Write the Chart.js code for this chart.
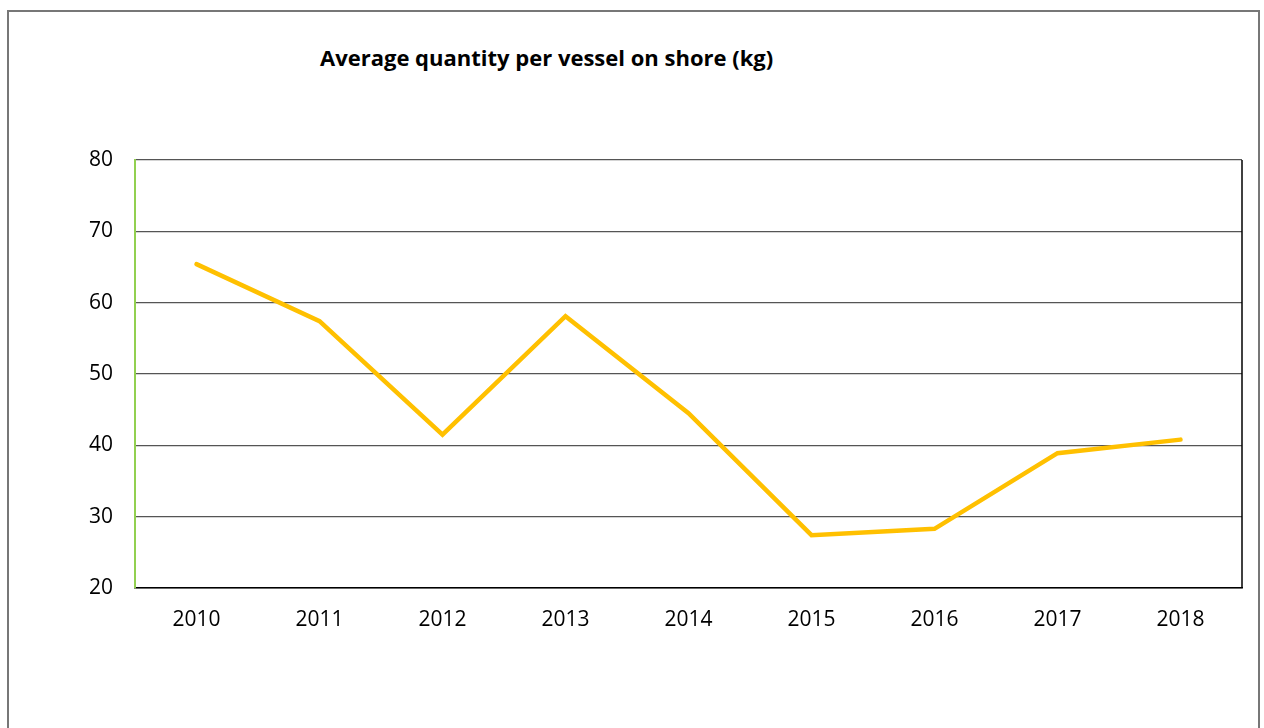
<!DOCTYPE html>
<html><head><meta charset="utf-8">
<script src="https://cdn.jsdelivr.net/npm/chart.js@4/dist/chart.umd.min.js"></script>
<style>
html,body{margin:0;padding:0;background:#fff;overflow:hidden;}
#wrap{position:relative;width:1264px;height:728px;}
#frame{position:absolute;left:7px;top:10px;width:1253px;height:740px;border:2px solid #777;box-sizing:border-box;}
#title{position:absolute;left:320px;top:42px;font-family:"Open Sans",sans-serif;font-weight:bold;font-size:22px;color:#000;white-space:nowrap;}
canvas{position:absolute;left:0;top:0;}
</style></head>
<body><div id="wrap"><div id="frame"></div>
<div id="title">Average quantity per vessel on shore (kg)</div>
<canvas id="c" width="1264" height="728"></canvas></div>
<script>
const years = ["2010","2011","2012","2013","2014","2015","2016","2017","2018"];
const avgQuantity = [65.4, 57.4, 41.5, 58.1, 44.5, 27.4, 28.3, 38.9, 40.8];
const yTicks = [20,30,40,50,60,70,80];

const borderPlugin = {
  id:'areaBorder',
  afterDatasetsDraw(chart){
    const {ctx, chartArea:a} = chart;
    ctx.save();
    ctx.strokeStyle='#000'; ctx.lineWidth=1.5;
    ctx.beginPath(); ctx.moveTo(a.right, a.top); ctx.lineTo(a.right, a.bottom); ctx.stroke();
    ctx.restore();
  }
};

new Chart(document.getElementById('c'), {
  type:'line',
  data:{labels:years, datasets:[{data:avgQuantity, borderColor:'#FFC000', borderWidth:4.5, pointRadius:0, tension:0, fill:false, borderCapStyle:'round', borderJoinStyle:'miter'}]},
  options:{
    responsive:false, animation:false,
    layout:{padding:{left:0, top:160, right:22, bottom:0}},
    plugins:{legend:{display:false}, title:{display:false}, tooltip:{enabled:false}},
    scales:{
      x:{
        offset:true,
        grid:{display:false, drawTicks:false},
        border:{display:true, color:'#000', width:1.5},
        ticks:{color:'#000', padding:19, font:{family:'"Open Sans", sans-serif', size:21}, maxRotation:0},
        afterFit(s){ s.height = 140; }
      },
      y:{
        min:20, max:80,
        afterBuildTicks(s){ s.ticks = yTicks.map(v=>({value:v})); },
        grid:{color:'#555', lineWidth:1.2, drawTicks:false},
        border:{display:true, color:'#92D050', width:2},
        ticks:{color:'#000', padding:22, font:{family:'"Open Sans", sans-serif', size:21}},
        afterFit(s){ s.width = 135; }
      }
    }
  },
  plugins:[borderPlugin]
});
</script></body></html>
